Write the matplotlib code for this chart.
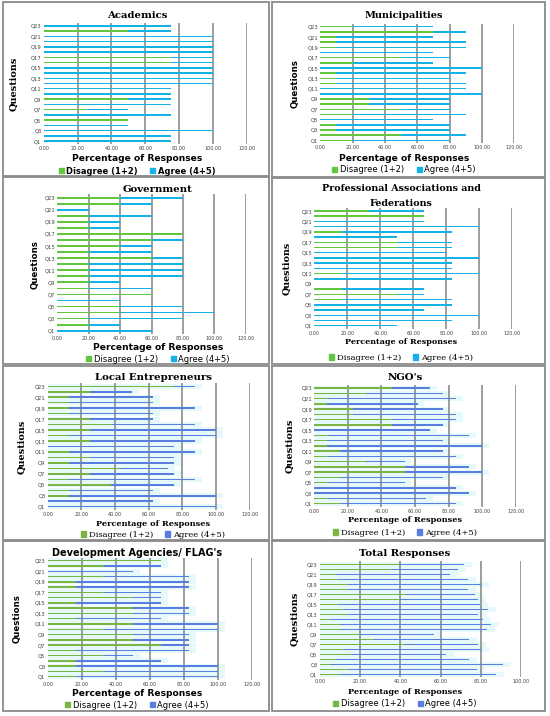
import numpy as np
import matplotlib.pyplot as plt
from matplotlib.patches import Rectangle, Patch

W, H = 550, 716

questions = [f"Q{i}" for i in range(1, 24)]

# Disagree (1+2) and Agree (4+5) percentages, Q1..Q23
acad_dis = [0, 0, 0, 0, 50, 0, 25, 0, 50, 0, 0, 0, 0, 0, 0, 75, 75, 0, 0, 0, 0, 50, 0]
acad_agr = [75, 75, 100, 50, 0, 75, 25, 75, 25, 75, 75, 100, 100, 100, 100, 25, 25, 100, 100, 100, 100, 25, 75]

muni_dis = [20, 50, 10, 10, 0, 20, 50, 30, 30, 0, 0, 10, 10, 10, 0, 20, 50, 0, 10, 10, 10, 70, 20]
muni_agr = [60, 40, 70, 70, 70, 70, 30, 50, 50, 100, 90, 80, 70, 80, 100, 50, 30, 70, 80, 80, 60, 20, 50]

gov_dis = [0, 20, 20, 40, 40, 0, 60, 20, 20, 20, 20, 20, 60, 20, 40, 60, 80, 20, 20, 20, 0, 40, 40]
gov_agr = [60, 20, 60, 60, 40, 40, 0, 40, 20, 60, 60, 60, 20, 40, 20, 20, 0, 20, 20, 40, 20, 20, 40]

prof_dis = [0, 0, 0, 0, 0, 16.67, 50, 16.67, 0, 0, 16.67, 0, 0, 0, 0, 50, 50, 0, 16.67, 0, 0, 66.67, 33.33]
prof_agr = [50, 83.33, 100, 66.67, 83.33, 66.67, 16.67, 50, 0, 83.33, 83.33, 83.33, 83.33, 100, 80,
            33.33, 33.33, 50, 66.67, 100, 66.67, 0, 33.33]

local_dis = [0, 0, 12.5, 12.5, 37.5, 12.5, 25, 42.86, 12.5, 25, 12.5, 0, 25, 12.5, 25, 37.5, 25,
             12.5, 12.5, 12.5, 12.5, 25, 75]
local_agr = [100, 62.5, 87.5, 50, 37.5, 75, 50, 28.57, 62.5, 50, 75, 75, 62.5, 87.5, 75, 50, 37.5,
             50, 75, 50, 50, 25, 12.5]

ngo_dis = [15.38, 7.69, 0, 0, 7.69, 15.38, 53.85, 53.85, 30.77, 7.69, 15.38, 7.69, 7.69, 7.69, 0,
           46.15, 46.15, 23.08, 23.08, 7.69, 7.69, 30.77, 46.15]
ngo_agr = [69.23, 58.97, 92.31, 84.62, 46.15, 61.54, 46.15, 38.46, 23.08, 76.92, 61.54, 92.31, 69.23,
           84.62, 69.23, 30.77, 38.46, 61.54, 53.85, 53.85, 76.92, 46.15, 23.08]

dev_dis = [16.67, 33.33, 16.67, 16.67, 33.33, 16.67, 66.67, 50, 50, 33.33, 50, 16.67, 50, 50, 16.67,
           50, 33.33, 16.67, 16.67, 33.33, 0, 33.33, 66.67]
dev_agr = [83.33, 66.67, 83.33, 50, 16.67, 66.67, 16.67, 33.33, 33.33, 66.67, 50, 50, 33.33, 33.33,
           50, 16.67, 33.33, 66.67, 66.67, 50, 50, 33.33, 0]

total_dis = [10, 14, 5, 7.5, 15.5, 11.5, 42, 27, 20, 10, 10, 5, 14, 11.5, 9, 40, 43, 14, 14, 9, 7.5, 35.5, 39.5]
total_agr = [77.6, 63.9, 86, 66.7, 47, 68.3, 36.3, 47, 36.9, 73.1, 74.8, 76, 64.3, 72.1, 70.7, 38.3, 34,
             59.4, 65.8, 64.4, 57, 32.9, 31.9]

SERIF = "DejaVu Serif"
SANS = "DejaVu Sans"
top_colors = ("#62c63e", "#14b2e6", None)
bot_colors = ("#7cb443", "#5a7ee0", "#e6f9fa")

# panel layout in pixels
panels = [
    dict(title="Academics", dis=acad_dis, agr=acad_agr, x0=43.7, x1=246.7, y23=26, y1=141, xmax=120,
         ty=15, tfont=SERIF, tsize=7.3, tky=150, xly=158.5, xlfont=SANS, xlsize=6.6, lgy=171, lgfont=SANS,
         lgw="bold", ylx=14, ylfont=SERIF, ylsize=7, cols=top_colors, cx=137),
    dict(title="Municipalities", dis=muni_dis, agr=muni_agr, x0=320.3, x1=514.3, y23=26.7, y1=140.3, xmax=120,
         ty=15.5, tfont=SERIF, tsize=7, tky=150, xly=158.5, xlfont=SANS, xlsize=6.6, lgy=170, lgfont=SANS,
         lgw="normal", ylx=295, ylfont=SANS, ylsize=6.2, cols=top_colors, cx=404),
    dict(title="Government", dis=gov_dis, agr=gov_agr, x0=57.3, x1=245.7, y23=197.7, y1=330.7, xmax=120,
         ty=189, tfont=SERIF, tsize=7.3, tky=340.5, xly=348, xlfont=SANS, xlsize=6.6, lgy=359, lgfont=SANS,
         lgw="normal", ylx=35, ylfont=SANS, ylsize=6.2, cols=top_colors, cx=158),
    dict(title="Professional Associations and\nFederations", dis=prof_dis, agr=prof_agr, x0=314.3, x1=512.3,
         y23=211, y1=325.7, xmax=120, ty=196, tfont=SERIF, tsize=6.8, tky=336.5, xly=342, xlfont=SERIF,
         xlsize=5.8, lgy=358, lgfont=SERIF, lgw="normal", ylx=287, ylfont=SERIF, ylsize=6.8, cols=top_colors,
         cx=401),
    dict(title="Local Entrepreneurs", dis=local_dis, agr=local_agr, x0=47.7, x1=249.7, y23=386.3, y1=506.7,
         xmax=120, ty=377, tfont=SERIF, tsize=7.3, tky=517, xly=523.5, xlfont=SERIF, xlsize=5.9, lgy=535,
         lgfont=SERIF, lgw="normal", ylx=22, ylfont=SERIF, ylsize=7, cols=bot_colors, cx=153),
    dict(title="NGO's", dis=ngo_dis, agr=ngo_agr, x0=314.3, x1=515.7, y23=388, y1=503.7, xmax=120,
         ty=377, tfont=SERIF, tsize=7.3, tky=512, xly=520, xlfont=SERIF, xlsize=5.9, lgy=533, lgfont=SERIF,
         lgw="normal", ylx=290, ylfont=SERIF, ylsize=7, cols=bot_colors, cx=405),
    dict(title="Development Agencies/ FLAG's", dis=dev_dis, agr=dev_agr, x0=47.7, x1=251.7, y23=560.7, y1=676.7,
         xmax=120, ty=552.5, tfont=SANS, tsize=7, tky=685.5, xly=693.5, xlfont=SANS, xlsize=6.6, lgy=705,
         lgfont=SANS, lgw="normal", ylx=17, ylfont=SANS, ylsize=6.2, cols=bot_colors, cx=137),
    dict(title="Total Responses", dis=total_dis, agr=total_agr, x0=319.7, x1=521.3, y23=564.3, y1=674.3,
         xmax=100, ty=553.5, tfont=SERIF, tsize=7.3, tky=681.5, xly=691.5, xlfont=SERIF, xlsize=5.9, lgy=704,
         lgfont=SANS, lgw="normal", ylx=295, ylfont=SERIF, ylsize=7, cols=bot_colors, cx=405),
]

frames = [(3, 2, 269, 176), (272, 2, 545, 177), (3, 177, 269, 364), (272, 178, 545, 364),
          (3, 366, 269, 540), (272, 366, 545, 540), (3, 541, 269, 711), (272, 541, 545, 711)]

fig = plt.figure(figsize=(W / 100, H / 100), dpi=100)
fig.patch.set_facecolor("white")

for (l, t, r, b) in frames:
    fig.patches.append(Rectangle((l / W, 1 - b / H), (r - l) / W, (b - t) / H, transform=fig.transFigure,
                                 fill=False, edgecolor="#8a8a8a", linewidth=1.3))

y = np.arange(1, 24)
for p in panels:
    s = (p["y1"] - p["y23"]) / 22
    top = p["y23"] - 0.6 * s
    bot = p["y1"] + 0.6 * s
    ax = fig.add_axes([p["x0"] / W, 1 - bot / H, (p["x1"] - p["x0"]) / W, (bot - top) / H])
    dis = np.array(p["dis"])
    agr = np.array(p["agr"])
    gcol, bcol, glow = p["cols"]
    if glow:
        ax.barh(y, dis + agr + 4, height=0.95, color=glow, zorder=0.5)
    ax.barh(y, dis, height=0.28, color=gcol, zorder=3)
    ax.barh(y, agr, left=dis, height=0.28, color=bcol, zorder=3)
    ax.set_xlim(0, p["xmax"])
    ax.set_ylim(0.4, 23.6)
    ticks = np.arange(0, p["xmax"] + 1, 20)
    ax.set_xticks(ticks)
    ax.set_xticklabels([f"{t:.2f}" for t in ticks], fontsize=3.5, color="#444")
    ax.set_yticks(y[::2])
    ax.set_yticklabels(questions[::2], fontsize=3.8, color="#444")
    ax.tick_params(length=0, pad=1.5)
    for t in ticks[1:]:
        ax.axvline(t, color="#8c8c8c", linewidth=1.2, zorder=1)
    for sp in ax.spines.values():
        sp.set_visible(False)
    ax.set_facecolor("none")

    fig.text(p["cx"] / W, 1 - p["ty"] / H, p["title"], ha="center", va="center", fontfamily=p["tfont"],
             fontweight="bold", fontsize=p["tsize"], linespacing=1.75)
    fig.text(p["cx"] / W, 1 - p["xly"] / H, "Percentage of Responses", ha="center", va="center",
             fontfamily=p["xlfont"], fontweight="bold", fontsize=p["xlsize"])
    fig.text(p["ylx"] / W, 1 - (p["y23"] + p["y1"]) / 2 / H, "Questions", ha="center", va="center",
             rotation=90, fontfamily=p["ylfont"], fontweight="bold", fontsize=p["ylsize"])
    handles = [Patch(color=gcol, label="Disagree (1+2)"), Patch(color=bcol, label="Agree (4+5)")]
    fig.legend(handles=handles, loc="center", bbox_to_anchor=(p["cx"] / W, 1 - p["lgy"] / H), ncol=2,
               frameon=False, handlelength=0.6, handleheight=0.6, handletextpad=0.3, columnspacing=1.5,
               prop=dict(family=p["lgfont"], weight=p["lgw"], size=6), borderpad=0)

fig.savefig("out.png", dpi=100)
